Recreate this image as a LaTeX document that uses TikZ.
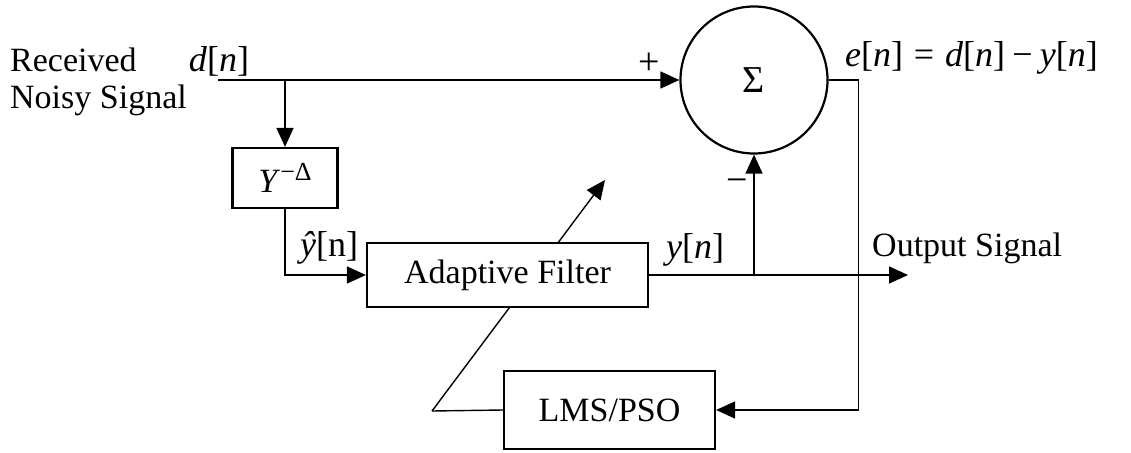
\documentclass[tikz,border=0pt]{standalone}
\usepackage{fontspec}
\setmainfont{Liberation Serif}
\usetikzlibrary{arrows.meta}
\begin{document}
\begin{tikzpicture}[x=1pt,y=-1pt,
  blk/.style={draw,line width=2.2pt,fill=white,inner sep=0pt},
  wire/.style={line width=1.4pt},
  sig/.style={wire,-{Triangle[length=19pt,width=17pt]}},
  lbl/.style={inner sep=0pt,font=\fontsize{34}{40}\selectfont}]
\useasboundingbox (0,0) rectangle (1131,452);

% adaptation arrow (passes behind the filter block)
\coordinate (knee) at (432,411);
\coordinate (adj) at (605,180);
\draw[sig] (knee) -- (adj);

% blocks
\node[blk,circle,minimum size=147pt,font=\fontsize{38}{38}\selectfont] (sum) at (754,80) {Σ};
\node[blk,minimum width=105pt,minimum height=60pt,font=\fontsize{34}{40}\selectfont] (dly) at (285,178)
  {\textit{Y}\raisebox{0.75ex}{\fontsize{26}{26}\selectfont −Δ}};
\node[blk,minimum width=281pt,minimum height=64pt,font=\fontsize{34}{40}\selectfont] (af) at (507.5,275) {Adaptive Filter};
\node[blk,minimum width=211pt,minimum height=78pt,font=\fontsize{34}{40}\selectfont] (lms) at (609.5,410) {LMS/PSO};

% signal paths
\coordinate (in) at (218,80);
\coordinate (tap) at (285,80);
\coordinate (out) at (908,275);
\coordinate (jn) at (sum.south |- af.east);
\draw[sig] (in) -- (sum.west);
\draw[sig] (tap) -- (dly.north);
\draw[sig] (dly.south) |- (af.west);
\draw[sig] (af.east) -- (out);
\draw[sig] (jn) -- (sum.south);
\draw[sig] (sum.east) -- ++(30,0) |- (lms.east);
\draw[wire] (lms.west) -- (knee);

% labels
\node[lbl,anchor=west] (rx1) at (10,60) {Received};
\node[lbl,anchor=west] (rx2) at (10,100) {Noisy Signal};
\node[lbl,font=\fontsize{36}{40}\selectfont] (dn) at (219,61) {\textit{d}[\textit{n}]};
\node[lbl,font=\fontsize{38}{40}\selectfont] (plus) at (649,64) {+};
\node[lbl,font=\fontsize{38}{40}\selectfont] (minus) at (737,186) {−};
\node[lbl,anchor=west,font=\fontsize{36}{40}\selectfont] (en) at (845,58)
  {\textit{e}[\textit{n}]\hspace{0.3em}=\hspace{0.3em}\textit{d}[\textit{n}]\hspace{0.2em}−\hspace{0.2em}\textit{y}[\textit{n}]};
\node[lbl,font=\fontsize{36}{40}\selectfont] (yh) at (329,248) {\textit{ŷ}[n]};
\node[lbl,font=\fontsize{36}{40}\selectfont] (yn) at (695,250) {\textit{y}[\textit{n}]};
\node[lbl,anchor=west] (outl) at (872,248) {Output Signal};
\end{tikzpicture}
\end{document}
